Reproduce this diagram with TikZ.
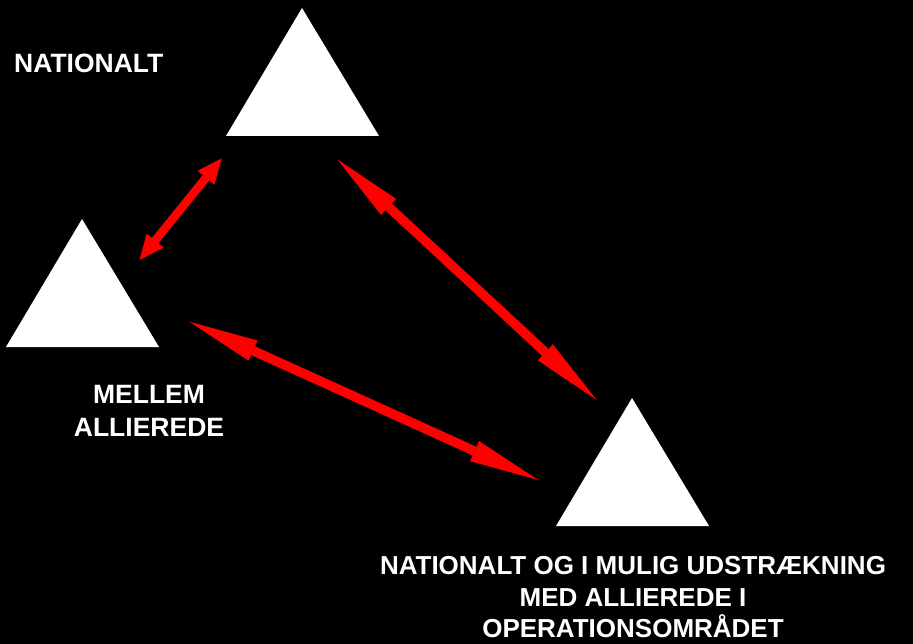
\documentclass[tikz,border=0pt]{standalone}
\usepackage{fontspec}
\setmainfont{Liberation Sans}
\usetikzlibrary{arrows.meta}
\begin{document}
\begin{tikzpicture}[x=1pt,y=-1pt,
  tri/.style={fill=white},
  lbl/.style={text=white,inner sep=0pt,align=center},
  dblarrow/.style={draw=red,line width=9.5pt,{Triangle[length=70pt,width=22pt,line width=0pt]}-{Triangle[length=70pt,width=22pt,line width=0pt]}},
  smallarrow/.style={draw=red,line width=8.5pt,{Triangle[length=25pt,width=22pt,line width=0pt]}-{Triangle[length=25pt,width=22pt,line width=0pt]}}
]
\fill[black] (0,0) rectangle (913,644);
\useasboundingbox (0,0) rectangle (913,644);
% triangles
\fill[tri] (302,8) -- (379,136) -- (226,136) -- cycle;
\fill[tri] (82,219) -- (159,347) -- (6,347) -- cycle;
\fill[tri] (632,398) -- (709,526) -- (556,526) -- cycle;
% arrow end points
\coordinate (a1) at (139.5,260);
\coordinate (b1) at (221.7,158.3);
\coordinate (a2) at (337.3,159.3);
\coordinate (b2) at (596.7,400);
\coordinate (a3) at (189.3,321.7);
\coordinate (b3) at (538.3,480);
\draw[smallarrow] (a1) -- (b1);
\draw[dblarrow] (a2) -- (b2);
\draw[dblarrow] (a3) -- (b3);
% labels
\node[lbl,font=\bfseries\fontsize{26.5}{33}\selectfont,anchor=base west] (nat) at (14,73) {NATIONALT};
\node[lbl,font=\bfseries\fontsize{26.5}{33.4}\selectfont,anchor=base] (mel) at (149,436.7) {MELLEM\\ALLIEREDE};
\node[lbl,font=\bfseries\fontsize{26}{31.2}\selectfont,anchor=base] (ops) at (633,637.3) {NATIONALT OG I MULIG UDSTRÆKNING\\MED ALLIEREDE I\\OPERATIONSOMRÅDET};
\end{tikzpicture}
\end{document}
